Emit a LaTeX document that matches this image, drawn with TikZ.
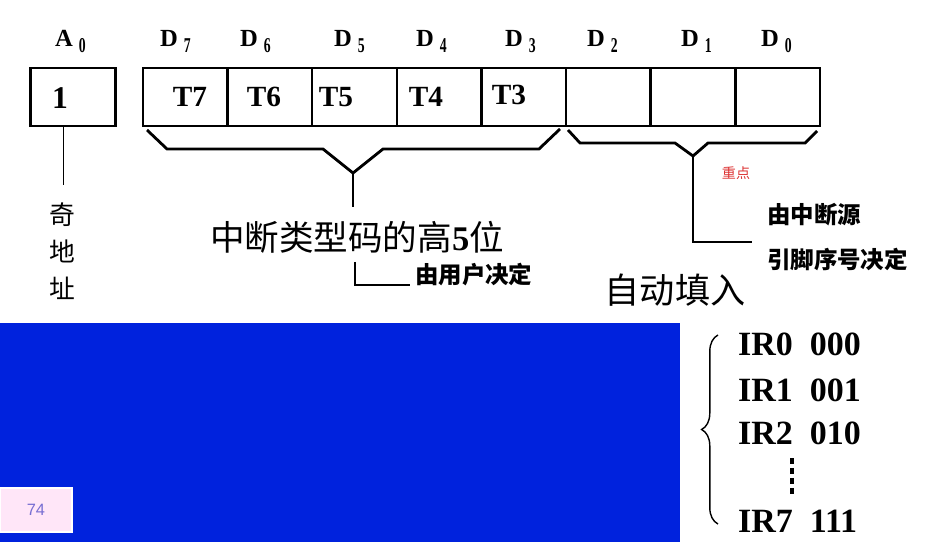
\documentclass[tikz,border=0pt]{standalone}
\usepackage{fontspec}
\setmainfont{Liberation Serif}
\newfontfamily\cjk{Noto Sans CJK SC}
\newfontfamily\pagefont{Liberation Sans}
\usetikzlibrary{decorations.pathreplacing}

\definecolor{bluebg}{RGB}{0,34,221}
\definecolor{pagebg}{RGB}{255,230,248}
\definecolor{pagetext}{RGB}{120,110,210}
\definecolor{keyred}{RGB}{220,50,50}

% bit label: letter with a narrow lowered index
\newcommand{\bitlab}[2]{#1\hspace{5pt}\raisebox{-5pt}{\scalebox{0.65}[1]{\fontsize{18}{18}\selectfont #2}}}

\tikzset{
	cell/.style={draw, line width=2.2pt, minimum width=2.538cm, minimum height=1.74cm, inner sep=0pt},
	bitname/.style={anchor=base west, inner sep=0pt, font=\fontsize{21}{21}\selectfont\bfseries},
	tname/.style={font=\fontsize{25}{25}\selectfont\bfseries, inner sep=0pt},
	bracel/.style={line width=2.4pt, line join=miter},
	note/.style={anchor=west, inner sep=0pt, font=\cjk\bfseries\fontsize{20}{20}\selectfont},
	irrow/.style={anchor=base west, inner sep=0pt, font=\fontsize{29}{29}\selectfont\bfseries}
}

\begin{document}
\begin{tikzpicture}[x=0.03cm, y=-0.03cm]
			\useasboundingbox (0,0) rectangle (934,542);

			% A0 box and the eight data bits
			\node[cell, minimum width=2.55cm]	(a0)	at (73.2,97)	{};
			\foreach \i in {0,...,7}
				\node[cell]	(c\i)	at ({143+84.6*(7-\i)+42.3},97)	{};

			% bit labels above
			\node[bitname]	(la0)	at (55,47)	{\bitlab{A}{0}};
			\foreach \i/\x in {7/160, 6/240, 5/334, 4/416, 3/505, 2/587, 1/681, 0/761}
				\node[bitname]	(ld\i)	at (\x,47)	{\bitlab{D}{\i}};

			% contents of the boxes
			\node[font=\fontsize{27}{27}\selectfont\bfseries, inner sep=0pt]	(one)	at (60,98)	{1};
			\node[tname]	(t7)	at (190,97)	{T7};
			\node[tname]	(t6)	at (264,97)	{T6};
			\node[tname]	(t5)	at (336,97)	{T5};
			\node[tname]	(t4)	at (426,97)	{T4};
			\node[tname]	(t3)	at (509,95)	{T3};

			% odd address
			\draw[line width=0.8pt]	(63,126)	--	(63,185);
			\foreach \ch/\y [count=\k] in {奇/215, 地/251, 址/288}
				\node[font=\cjk\fontsize{22}{22}\selectfont, inner sep=0pt]	(odd\k)	at (62,\y)	{\ch};

			% brace under T7..T3
			\coordinate	(lapex)	at (353,173);
			\draw[bracel]	(147,130)	--	(167,149)	--	(323,149)	--	(lapex)
							--	(383,149)	--	(539,149)	--	(560,129);
			\draw[line width=2.2pt]	(lapex)	--	(353,207);
			\node[font=\cjk\fontsize{29.5}{29.5}\selectfont, inner sep=0pt]	(high)	at (357,237)
				{中断类型码的高{\rmfamily\bfseries 5}位};

			% set by the user
			\node[note]	(user)	at (415,275)	{由用户决定};
			\coordinate	(ucorner)	at (355,285);
			\draw[line width=2.2pt]	(355,262)	--	(ucorner)	--	(410,285);

			% brace under D2..D0
			\coordinate	(rapex)	at (693,156);
			\draw[bracel]	(568,130)	--	(580,143)	--	(675,143)	--	(rapex)
							--	(708,143)	--	(805,143)	--	(817,131);
			\node[font=\cjk\fontsize{12}{12}\selectfont, text=keyred, inner sep=0pt]	(key)	at (736,173)	{重点};
			\coordinate	(rcorner)	at (693,242);
			\draw[line width=1.8pt]	(rapex)	--	(rcorner)	--	(752,242);
			\node[note]	(src)	at (767,215)	{由中断源};
			\node[note]	(pin)	at (767,260)	{引脚序号决定};
			\node[font=\cjk\fontsize{30}{30}\selectfont, inner sep=0pt]	(auto)	at (675,290)	{自动填入};

			% lower slide area
			\fill[bluebg]	(0,323)	rectangle	(680,542);
			\node[fill=pagebg, draw=white, line width=1pt, minimum width=2.16cm, minimum height=1.32cm,
				text=pagetext, font=\pagefont\fontsize{14}{14}\selectfont]	(page)	at (36,510)	{74};

			% pin codes
			\draw[line width=1.2pt, decorate, decoration={brace, amplitude=14}]	(718,524)	--	(718,335);
			\node[irrow]	(ir0)	at (738,355)	{IR0\ \ 000};
			\node[irrow]	(ir1)	at (738,401)	{IR1\ \ 001};
			\node[irrow]	(ir2)	at (738,444)	{IR2\ \ 010};
			\draw[line width=4pt, dash pattern=on 5.5pt off 3pt]	(792,458)	--	(792,494);
			\node[irrow]	(ir7)	at (738,532)	{IR7\ \ 111};
\end{tikzpicture}
\end{document}
